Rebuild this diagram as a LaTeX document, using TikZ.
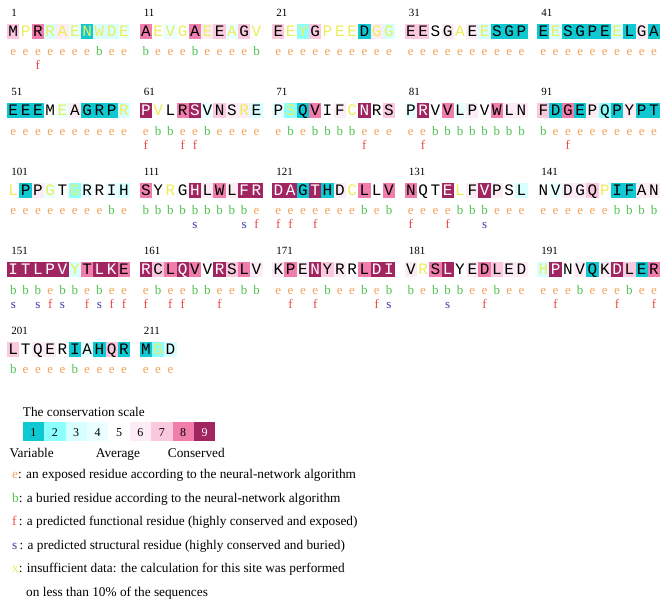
\documentclass[tikz,border=0pt]{standalone}
\usepackage{fontspec}
\setmainfont{Liberation Serif}
\newfontfamily\monof{Liberation Mono}
\definecolor{g1}{HTML}{10C8D1}
\definecolor{g2}{HTML}{8CFFFF}
\definecolor{g3}{HTML}{D7FFFF}
\definecolor{g4}{HTML}{EAFFFF}
\definecolor{g5}{HTML}{FFFFFF}
\definecolor{g6}{HTML}{FCEDF4}
\definecolor{g7}{HTML}{FAC9DE}
\definecolor{g8}{HTML}{F07DAB}
\definecolor{g9}{HTML}{A02560}
\definecolor{tk}{HTML}{000000}
\definecolor{ty}{HTML}{EDED5A}
\definecolor{tw}{HTML}{FFFFFF}
\definecolor{ce}{HTML}{F5A35C}
\definecolor{cb}{HTML}{52C152}
\definecolor{cf}{HTML}{EE4B4B}
\definecolor{cs}{HTML}{3C3CA8}
\tikzset{
 res/.style={font=\monof\fontsize{16}{16}\selectfont, inner sep=0pt, anchor=base},
 ann/.style={font=\fontsize{13}{13}\selectfont, inner sep=0pt, anchor=base},
 lbl/.style={font=\fontsize{11}{11}\selectfont, inner sep=0pt, anchor=base west},
 leg/.style={font=\fontsize{13.3}{13.3}\selectfont, inner sep=0pt, anchor=base west},
}
\newcommand\seqblock[4]{%
 \pgfmathsetmacro\bx{13.3+132.5*#1}%
 \pgfmathsetmacro\by{31+79.5*#2}%
 \node[lbl] (num#3) at (\bx-2.2,\by-14.8) {#3};
 \foreach \Ra/\Rg/\Rt/\Rx/\Rf [count=\i from 0] in {#4} {
   \pgfmathsetmacro\xx{\bx+12.3*\i}
   \fill[g\Rg] (\xx-6.15,\by-7.5) rectangle (\xx+6.15,\by+7.5);
   \node[res,text=t\Rt] (aa#3-\i) at (\xx,\by+5.2) {\Ra};
   \node[ann,text=c\Rx] (ex#3-\i) at (\xx,\by+24.5) {\Rx};
   \if\Rf-\else\node[ann,text=c\Rf] (fs#3-\i) at (\xx,\by+38.5) {\Rf};\fi
 }
}
\begin{document}
\begin{tikzpicture}[x=1pt,y=-1pt]
\useasboundingbox (0,0) rectangle (666,606);
\fill[white] (0,0) rectangle (666,606);
% row 0
\seqblock{0}{0}{1}{M/7/k/e/-, P/5/y/e/-, R/8/k/e/f, R/3/y/e/-, A/6/y/e/-, E/4/y/e/-, N/1/y/e/-, W/3/y/b/-, D/3/y/e/-, E/4/y/e/-}
\seqblock{1}{0}{11}{A/8/k/b/-, E/5/y/e/-, V/4/y/e/-, G/5/y/e/-, A/8/k/b/-, E/6/y/e/-, E/7/k/e/-, A/4/y/e/-, G/7/k/e/-, V/5/y/b/-}
\seqblock{2}{0}{21}{E/7/k/e/-, E/5/y/e/-, Y/2/y/e/-, G/7/k/e/-, P/5/y/e/-, E/5/y/e/-, E/5/y/e/-, D/1/k/e/-, G/6/y/e/-, G/3/y/e/-}
\seqblock{3}{0}{31}{E/7/k/e/-, E/7/k/e/-, S/5/k/e/-, G/6/k/e/-, A/5/y/e/-, E/6/k/e/-, E/3/y/e/-, S/1/k/e/-, G/1/k/e/-, P/1/k/e/-}
\seqblock{4}{0}{41}{E/1/k/e/-, E/3/y/e/-, S/1/k/e/-, G/1/k/e/-, P/1/k/e/-, E/1/k/e/-, E/3/y/e/-, L/1/k/e/-, G/6/k/e/-, A/1/k/e/-}
% row 1
\seqblock{0}{1}{51}{E/1/k/e/-, E/1/k/e/-, E/1/k/e/-, M/5/k/e/-, E/4/y/e/-, A/6/k/e/-, G/1/k/e/-, R/1/k/e/-, P/1/k/e/-, R/3/y/e/-}
\seqblock{1}{1}{61}{P/9/w/e/f, V/5/y/b/-, L/5/k/b/-, R/8/k/e/f, S/9/w/e/f, V/4/k/b/-, N/7/k/e/-, S/6/k/e/-, R/6/y/e/-, E/3/k/e/-}
\seqblock{2}{1}{71}{P/4/k/e/-, S/2/y/b/-, Q/1/k/e/-, V/8/k/b/-, I/5/k/b/-, F/6/k/b/-, C/5/y/b/-, N/9/w/e/f, R/5/k/e/-, S/7/k/e/-}
\seqblock{3}{1}{81}{P/4/k/e/-, R/9/w/e/f, V/5/k/b/-, V/8/k/b/-, L/4/k/b/-, P/6/k/b/-, V/5/k/b/-, W/8/k/b/-, L/6/k/b/-, N/6/k/b/-}
\seqblock{4}{1}{91}{F/7/k/b/-, D/1/k/e/-, G/8/k/e/f, E/1/k/e/-, P/6/k/e/-, Q/2/k/e/-, P/1/k/e/-, Y/6/k/e/-, P/1/k/e/-, T/1/k/e/-}
% row 2
\seqblock{0}{2}{101}{L/5/y/e/-, P/1/k/e/-, P/6/k/e/-, G/4/y/e/-, T/5/k/e/-, G/2/y/e/-, R/4/k/e/-, R/5/k/e/-, I/4/k/b/-, H/3/k/e/-}
\seqblock{1}{2}{111}{S/8/k/b/-, Y/5/k/b/-, R/5/y/b/-, G/5/k/b/-, H/9/w/b/s, L/6/k/b/-, W/8/k/b/-, L/6/k/b/-, F/9/w/b/s, R/9/w/e/f}
\seqblock{2}{2}{121}{D/9/w/e/f, A/9/w/e/f, G/1/k/e/-, T/9/w/e/f, H/1/k/e/-, D/6/k/e/-, C/5/y/e/-, L/8/k/b/-, L/5/k/e/-, V/8/k/b/-}
\seqblock{3}{2}{131}{N/8/k/e/f, Q/5/k/e/-, T/5/k/e/-, E/9/w/e/f, L/5/y/b/-, F/6/k/b/-, V/9/w/b/s, P/6/k/e/-, S/5/k/e/-, L/3/k/e/-}
\seqblock{4}{2}{141}{N/5/k/e/-, V/4/k/e/-, D/6/k/e/-, G/6/k/e/-, Q/7/k/e/-, P/5/y/e/-, I/1/k/b/-, F/1/k/b/-, A/6/k/b/-, N/6/k/b/-}
% row 3
\seqblock{0}{3}{151}{I/9/w/b/s, T/9/w/b/-, L/9/w/b/s, P/9/w/e/f, V/9/w/b/s, Y/3/y/b/-, T/8/k/e/f, L/9/w/b/s, K/9/w/e/f, E/8/k/e/f}
\seqblock{1}{3}{161}{R/9/w/e/f, C/7/k/b/-, L/8/k/e/f, Q/9/w/e/f, V/8/k/b/-, V/5/k/b/-, R/9/w/e/f, S/7/k/e/-, L/8/k/b/-, V/6/k/b/-}
\seqblock{2}{3}{171}{K/6/k/e/-, P/8/k/e/f, E/6/k/e/-, N/9/w/e/f, Y/7/k/b/-, R/6/k/e/-, R/5/k/e/-, L/8/k/b/-, D/9/w/e/f, I/9/w/b/s}
\seqblock{3}{3}{181}{V/6/k/b/-, R/5/y/e/-, S/8/k/b/-, L/9/w/b/s, Y/5/k/b/-, E/6/k/e/-, D/8/k/e/f, L/7/k/b/-, E/6/k/e/-, D/6/k/e/-}
\seqblock{4}{3}{191}{H/3/y/e/-, P/9/w/e/f, N/5/k/e/-, V/6/k/b/-, Q/1/k/e/-, K/6/k/e/-, D/9/w/e/f, L/7/k/b/-, E/1/k/e/-, R/8/k/e/f}
% row 4
\seqblock{0}{4}{201}{L/7/k/b/-, T/5/k/e/-, Q/6/k/e/-, E/6/k/e/-, R/5/k/e/-, I/1/k/b/-, A/4/k/e/-, H/1/k/e/-, Q/7/k/e/-, R/1/k/e/-}
\seqblock{1}{4}{211}{M/1/k/e/-, G/2/y/e/-, D/3/k/e/-}
% legend
\node[leg] (cap) at (22.7,416) {The conservation scale};
\foreach \j in {1,...,9} {
  \fill[g\j] (22.7+21.4*\j-21.4,422) rectangle (22.7+21.4*\j,441);
  \ifnum\j=9
    \node[font=\fontsize{12}{12}\selectfont, text=white, inner sep=0pt, anchor=base] (sc\j) at (22.7+21.4*\j-10.7,436) {\j};
  \else
    \node[font=\fontsize{12}{12}\selectfont, inner sep=0pt, anchor=base] (sc\j) at (22.7+21.4*\j-10.7,436) {\j};
  \fi
}
\node[leg] (lvar) at (9.3,457) {Variable};
\node[leg] (lavg) at (95.7,457) {Average};
\node[leg] (lcon) at (167.7,457) {Conserved};
\node[leg] (le) at (12,478.5) {\textcolor{ce}{e}: an exposed residue according to the neural-network algorithm};
\node[leg] (lb) at (12,502) {\textcolor{cb}{b}: a buried residue according to the neural-network algorithm};
\node[leg] (lf) at (12,525.5) {\textcolor{cf}{f}\,: a predicted functional residue (highly conserved and exposed)};
\node[leg] (ls) at (12,549) {\textcolor{cs}{s}\,: a predicted structural residue (highly conserved and buried)};
\node[leg] (lx) at (12,572.5) {\textcolor{ty}{x}: insufficient data: the calculation for this site was performed};
\node[leg] (lx2) at (26,596) {on less than 10\% of the sequences};
\end{tikzpicture}
\end{document}
